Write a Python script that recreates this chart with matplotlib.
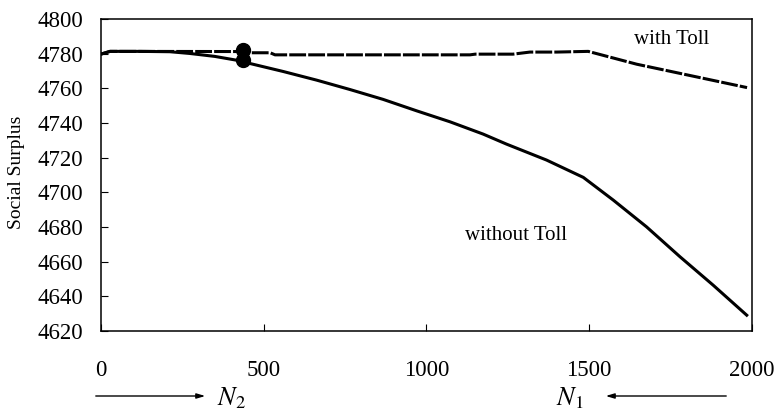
"""Social surplus with and without toll against the number of users."""

import matplotlib.pyplot as plt
import numpy as np

plt.rcParams["font.family"] = "Liberation Serif"
plt.rcParams["mathtext.fontset"] = "stix"

# social surplus without toll
n_without = np.array([0, 28, 120, 212, 273, 350, 417, 458, 560, 663, 765, 867,
                      970, 1072, 1174, 1246, 1369, 1482, 1574, 1676, 1779, 1881, 1984])
ss_without = np.array([4779.8, 4781.4, 4781.4, 4781.2, 4780.2, 4778.5, 4776.3, 4774.4,
                       4769.8, 4764.8, 4759.4, 4753.7, 4747.1, 4740.8, 4733.7, 4727.9,
                       4718.7, 4708.7, 4695.6, 4680.2, 4662.9, 4646.5, 4629.2])

# social surplus with toll
n_with = np.array([0, 28, 430, 440, 520, 535, 1134, 1150, 1266, 1318, 1400, 1497, 1646, 1985])
ss_with = np.array([4779.8, 4781.4, 4781.3, 4780.6, 4780.6, 4779.4, 4779.4, 4779.8,
                    4779.8, 4781.0, 4781.0, 4781.4, 4774.0, 4760.5])

# equilibrium points
n_eq = [436, 436]
ss_eq = [4782.0, 4776.7]

fig = plt.figure(figsize=(7.76, 4.16), dpi=100)
ax = fig.add_axes([0.130, 0.204, 0.839, 0.750])

ax.plot(n_without, ss_without, color="k", lw=2.2)
ax.plot(n_with, ss_with, color="k", lw=2.2, dashes=(5.5, 0.7))
ax.plot(n_eq, ss_eq, "o", color="k", ms=10)

ax.set_xlim(0, 2000)
ax.set_ylim(4620, 4800)
ax.set_xticks([0, 500, 1000, 1500, 2000])
ax.set_yticks(np.arange(4620, 4801, 20))
ax.tick_params(axis="both", direction="in", length=5, width=0.8, labelsize=16.5)
ax.tick_params(axis="y", pad=13)
ax.tick_params(axis="x", pad=21)
for sp in ax.spines.values():
    sp.set_linewidth(1.1)

ax.text(1754, 4788, "with Toll", fontsize=15, ha="center", va="center")
ax.text(1275, 4675, "without Toll", fontsize=15, ha="center", va="center")

fig.text(17 / 776, 1 - 172 / 416, "Social Surplus", rotation=90, fontsize=14,
         ha="center", va="center")

# direction arrows below the axis
ax.annotate("", xy=(208 / 776, 1 - 396 / 416), xytext=(93 / 776, 1 - 396 / 416),
            xycoords="figure fraction", textcoords="figure fraction",
            arrowprops=dict(arrowstyle="-|>,head_length=0.5,head_width=0.15", lw=1, color="k"))
ax.annotate("", xy=(603 / 776, 1 - 396 / 416), xytext=(729 / 776, 1 - 396 / 416),
            xycoords="figure fraction", textcoords="figure fraction",
            arrowprops=dict(arrowstyle="-|>,head_length=0.5,head_width=0.15", lw=1, color="k"))
fig.text(217 / 776, 1 - 398 / 416, "$N_2$", fontsize=19, ha="left", va="center")
fig.text(556 / 776, 1 - 398 / 416, "$N_1$", fontsize=19, ha="left", va="center")

fig.savefig("out.png", dpi=100)
